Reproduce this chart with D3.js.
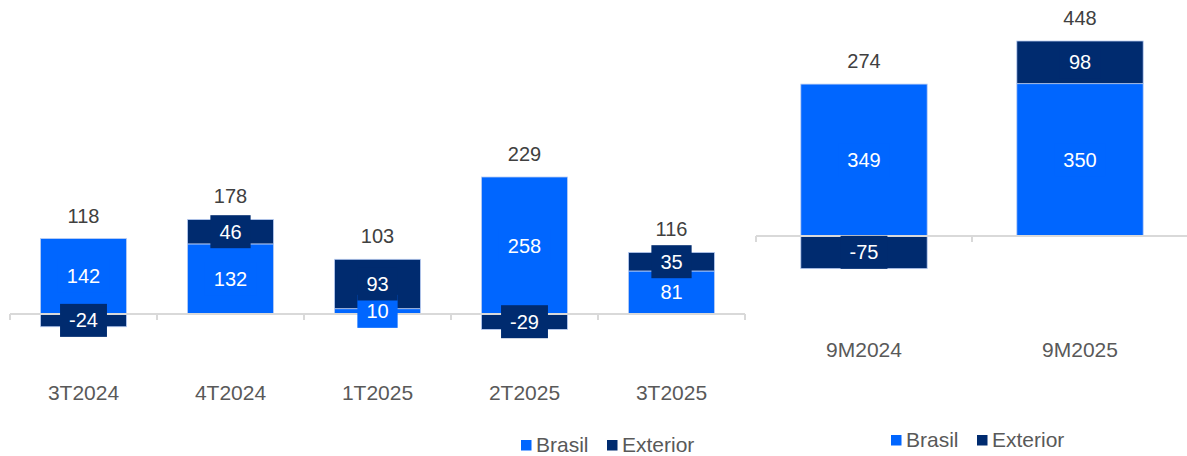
<!DOCTYPE html>
<html>
<head>
<meta charset="utf-8">
<script src="https://cdn.jsdelivr.net/npm/d3@7"></script>
<style>
  html, body { margin: 0; padding: 0; background: #ffffff; }
  svg { display: block; font-family: "Liberation Sans", Arial, sans-serif; }
</style>
</head>
<body>
<svg id="chart" width="1187" height="456"></svg>
<script>
// Quarterly result split by origin
const quarters = ["3T2024", "4T2024", "1T2025", "2T2025", "3T2025"];
const quarterBrasil = [142, 132, 10, 258, 81];
const quarterExterior = [-24, 46, 93, -29, 35];
const quarterTotal = [118, 178, 103, 229, 116];

// Nine-month accumulated result
const periods = ["9M2024", "9M2025"];
const periodBrasil = [349, 350];
const periodExterior = [-75, 98];
const periodTotal = [274, 448];

const seriesNames = ["Brasil", "Exterior"];
const colors = { Brasil: "#0066FF", Exterior: "#002B6F" };

const svg = d3.select("#chart");

function drawPanel(cfg) {
  const rows = cfg.categories.map((c, i) => ({
    cat: c, Brasil: cfg.brasil[i], Exterior: cfg.exterior[i], total: cfg.total[i]
  }));

  const x = d3.scaleBand()
    .domain(cfg.categories)
    .range([cfg.x0, cfg.x1])
    .paddingInner(0.415)
    .paddingOuter(0.2075);

  const y = d3.scaleLinear()
    .domain([0, cfg.refValue])
    .range([cfg.axisY, cfg.refY]);

  const stacked = d3.stack()
    .keys(seriesNames)
    .offset(d3.stackOffsetDiverging)(rows);

  const g = svg.append("g");

  // bars
  const layers = g.selectAll("g.layer").data(stacked).join("g")
    .attr("class", "layer")
    .attr("fill", d => colors[d.key]);

  layers.selectAll("rect").data(d => d).join("rect")
    .attr("x", d => x(d.data.cat))
    .attr("width", x.bandwidth())
    .attr("y", d => y(Math.max(d[0], d[1])))
    .attr("height", d => Math.abs(y(d[0]) - y(d[1])))
    .attr("stroke", "#b9cdf3")
    .attr("stroke-width", 0.8);

  // category axis with boundary ticks
  const axis = g.append("g").attr("stroke", "#d9d9d9").attr("stroke-width", 2);
  axis.append("line")
    .attr("x1", cfg.x0).attr("x2", cfg.x1)
    .attr("y1", cfg.axisY).attr("y2", cfg.axisY);
  const step = x.step();
  d3.range(cfg.categories.length + 1).forEach(i => {
    const tx = cfg.x0 + i * step;
    axis.append("line")
      .attr("x1", tx).attr("x2", tx)
      .attr("y1", cfg.axisY).attr("y2", cfg.axisY + 6);
  });

  // segment value labels on colored boxes
  stacked.forEach(layer => {
    layer.forEach(d => {
      const v = d.data[layer.key];
      const cx = x(d.data.cat) + x.bandwidth() / 2;
      const cy = (y(d[0]) + y(d[1])) / 2;
      const lbl = g.append("g");
      const t = lbl.append("text")
        .attr("x", cx).attr("y", cy)
        .attr("text-anchor", "middle")
        .attr("dominant-baseline", "central")
        .attr("font-size", 20)
        .attr("fill", "#ffffff")
        .text(v);
      const w = t.node().getComputedTextLength() + 18;
      lbl.insert("rect", "text")
        .attr("x", cx - w / 2).attr("y", cy - 16.5)
        .attr("width", w).attr("height", 33)
        .attr("fill", colors[layer.key]);
    });
  });

  // totals above the positive stack
  g.selectAll("text.total").data(rows).join("text")
    .attr("class", "total")
    .attr("x", d => x(d.cat) + x.bandwidth() / 2)
    .attr("y", d => y(Math.max(0, d.Brasil) + Math.max(0, d.Exterior)) - 16)
    .attr("text-anchor", "middle")
    .attr("font-size", 20)
    .attr("fill", "#404040")
    .text(d => d.total);

  // category names
  g.selectAll("text.cat").data(cfg.categories).join("text")
    .attr("class", "cat")
    .attr("x", d => x(d) + x.bandwidth() / 2)
    .attr("y", cfg.catY)
    .attr("text-anchor", "middle")
    .attr("font-size", 21)
    .attr("fill", "#595959")
    .text(d => d);

  // legend
  const leg = g.append("g").attr("transform", `translate(${cfg.legX},${cfg.legY})`);
  const offsets = [0, 86];
  seriesNames.forEach((s, i) => {
    leg.append("rect")
      .attr("x", offsets[i]).attr("y", -12)
      .attr("width", 10.5).attr("height", 10.5)
      .attr("fill", colors[s]);
    leg.append("text")
      .attr("x", offsets[i] + 15).attr("y", 0)
      .attr("font-size", 21)
      .attr("fill", "#595959")
      .text(s);
  });
}

drawPanel({
  categories: quarters, brasil: quarterBrasil, exterior: quarterExterior, total: quarterTotal,
  x0: 10, x1: 745, axisY: 314, refValue: 258, refY: 177,
  catY: 400, legX: 521, legY: 452
});

drawPanel({
  categories: periods, brasil: periodBrasil, exterior: periodExterior, total: periodTotal,
  x0: 756, x1: 1188, axisY: 236, refValue: 448, refY: 41,
  catY: 357, legX: 891, legY: 447
});
</script>
</body>
</html>
